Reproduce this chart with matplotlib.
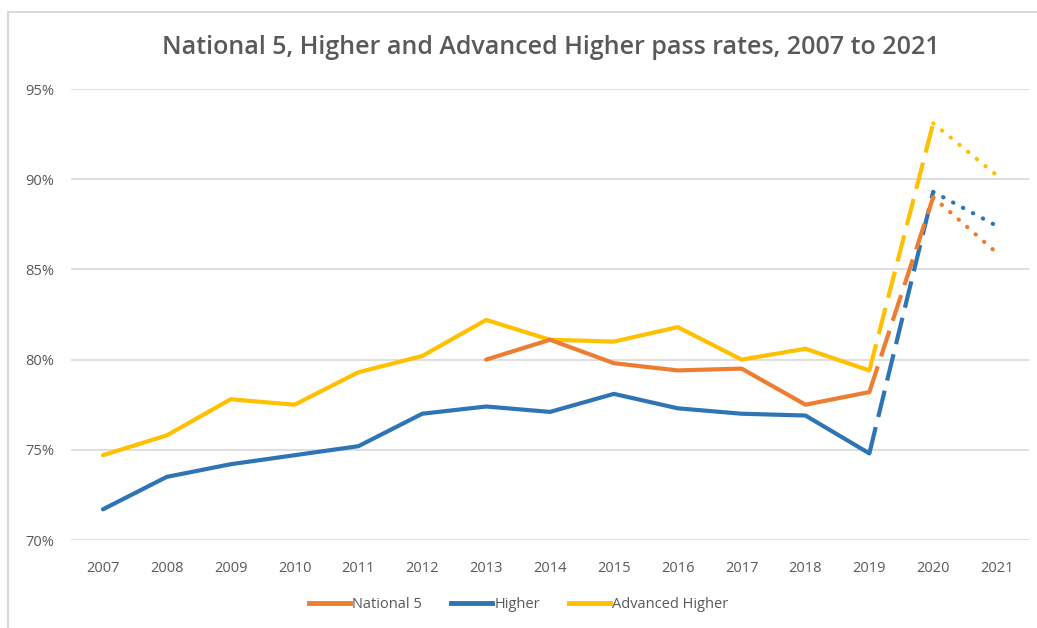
import matplotlib.pyplot as plt
from matplotlib.lines import Line2D
from matplotlib.patches import Rectangle

years = list(range(2007, 2022))
national5 = [None, None, None, None, None, None,
             80.0, 81.1, 79.8, 79.4, 79.5, 77.5, 78.2, 89.0, 85.9]
higher = [71.7, 73.5, 74.2, 74.7, 75.2, 77.0, 77.4, 77.1, 78.1, 77.3,
          77.0, 76.9, 74.8, 89.3, 87.4]
adv_higher = [74.7, 75.8, 77.8, 77.5, 79.3, 80.2, 82.2, 81.1, 81.0, 81.8,
              80.0, 80.6, 79.4, 93.1, 90.2]
yticks = [70, 75, 80, 85, 90, 95]

series = [
    ('National 5', national5, '#ED7D31'),
    ('Higher', higher, '#2E75B6'),
    ('Advanced Higher', adv_higher, '#FFC000'),
]

plt.rcParams['font.family'] = ['Open Sans', 'DejaVu Sans']
grey = '#595959'

fig = plt.figure(figsize=(10.37, 6.28), dpi=100)
ax = fig.add_axes([71 / 1037, 1 - 540 / 628, (1029 - 71) / 1037, (540 - 89) / 628])

lw = 3.0
# draw in reverse so National 5 sits on top
for name, vals, col in reversed(series):
    pts = [(y, v) for y, v in zip(years, vals) if v is not None]
    solid = [p for p in pts if p[0] <= 2019]
    xs, ys = zip(*solid)
    ax.plot(xs, ys, color=col, lw=lw, solid_capstyle='round', solid_joinstyle='round')
    seg = [p for p in pts if 2019 <= p[0] <= 2020]
    xs, ys = zip(*seg)
    ax.plot(xs, ys, color=col, lw=lw, linestyle=(0, (6.5, 2.5)), dash_capstyle='butt')
    seg = [p for p in pts if p[0] >= 2020]
    xs, ys = zip(*seg)
    ax.plot(xs, ys, color=col, lw=lw, linestyle=(0, (0.1, 2.6)), dash_capstyle='round')

ax.set_xlim(2006.5, 2021.5)
ax.set_ylim(70, 95)
ax.set_xticks(years)
ax.set_xticklabels([str(y) for y in years])
ax.set_yticks(yticks)
ax.set_yticklabels([f'{t}%' for t in yticks])
ax.tick_params(length=0, colors=grey, labelsize=10.5)
ax.tick_params(axis='y', pad=12)
ax.tick_params(axis='x', pad=15)
ax.grid(axis='y', color='#D9D9D9', lw=1.2)
ax.set_axisbelow(True)
for s in ax.spines.values():
    s.set_visible(False)

fig.text(551 / 1037, 1 - 47 / 628, 'National 5, Higher and Advanced Higher pass rates, 2007 to 2021',
         ha='center', va='center', fontsize=18, color=grey, fontweight='semibold')

handles = [Line2D([], [], color=c, lw=lw + 0.5) for _, _, c in series]
fig.legend(handles, [n for n, _, _ in series], loc='center', bbox_to_anchor=(519 / 1037, 1 - 605 / 628),
           ncol=3, frameon=False, fontsize=10.5, labelcolor=grey, handlelength=2.8,
           handletextpad=0.15, columnspacing=2.0)

fig.add_artist(Rectangle((8 / 1037, -0.1), 2, 1 - 12 / 628 + 0.1, transform=fig.transFigure,
                         fill=False, edgecolor='#D9D9D9', lw=1.5))

fig.savefig('out.png', dpi=100)
